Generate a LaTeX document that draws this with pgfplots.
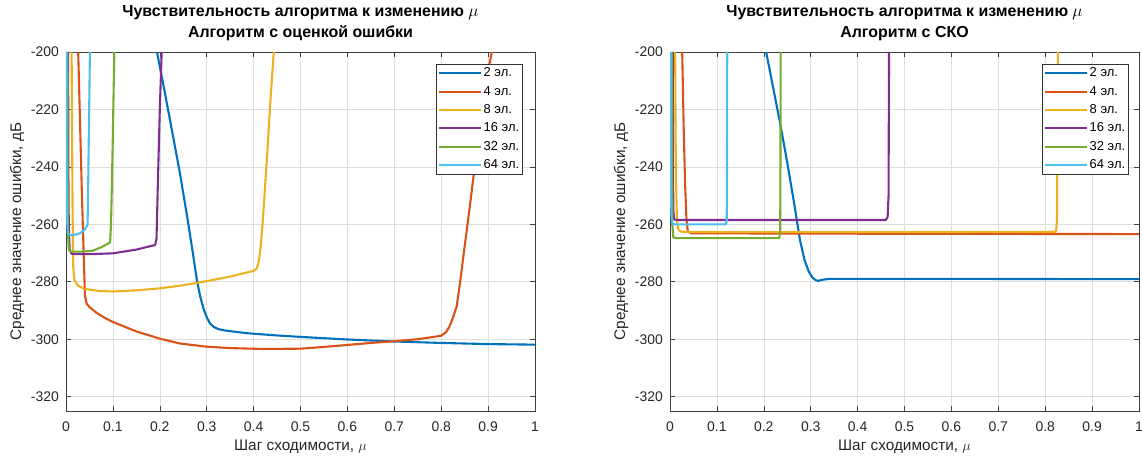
\documentclass[border=0pt]{standalone}
\usepackage{fontspec}
\setmainfont{Liberation Sans}
\usepackage{pgfplots}
\pgfplotsset{compat=1.18}
\definecolor{c1}{rgb}{0,0.447,0.741}
\definecolor{c2}{rgb}{0.850,0.325,0.098}
\definecolor{c3}{rgb}{0.929,0.694,0.125}
\definecolor{c4}{rgb}{0.494,0.184,0.556}
\definecolor{c5}{rgb}{0.466,0.674,0.188}
\definecolor{c6}{rgb}{0.301,0.745,0.933}
\tikzset{ml/.style={line width=2.1bp, line join=round}}
\pgfplotsset{
  mstyle/.style={
    width=469bp, height=359bp, scale only axis,
    xmin=0, xmax=1, ymin=-325, ymax=-200,
    xtick={0,0.1,...,1.01}, ytick={-320,-300,-280,-260,-240,-220,-200},
    /pgf/number format/assume math mode=true,
    /pgf/number format/fixed,
    /pgf/number format/precision=1,
    grid=major, major grid style={black!13, line width=0.6bp},
    axis line style={black!75, line width=0.6bp},
    tick style={black!75, line width=0.6bp},
    major tick length=5bp, tick align=inside,
    ticklabel style={font=\fontsize{14}{16}\selectfont, text=black!85},
    xticklabel style={inner sep=0pt, anchor=north, text height=10bp, text depth=0bp, yshift=-10.5bp},
    yticklabel style={inner sep=0pt, anchor=east, xshift=-7bp},
    xlabel style={font=\fontsize{15.4}{18}\selectfont, at={(axis description cs:0.5,-0.1003)}, anchor=center, text=black!85},
    ylabel style={font=\fontsize{15.4}{18}\selectfont, at={(axis description cs:-0.1045,0.5)}, anchor=center, rotate=0, text=black!85},
    title style={font=\fontsize{16}{21}\selectfont\bfseries, at={(axis description cs:0.5,1)}, anchor=south, inner sep=0pt, yshift=5.5bp, align=center},
    xlabel={Шаг сходимости, $\mu$},
    ylabel={Среднее значение ошибки, дБ},
    legend cell align=left,
    legend style={at={(axis description cs:0.9744,0.9666)}, anchor=north east,
      draw=black!80, line width=0.6bp, fill=white, inner xsep=2bp, inner ysep=0bp,
      font=\fontsize{13}{15}\selectfont, row sep=0pt,
      nodes={inner ysep=2.65bp, inner xsep=1.5bp, text height=10bp, text depth=3bp}},
    legend image code/.code={\draw[##1, line width=2.1bp] (0bp,0bp) -- (42bp,0bp);},
  }
}
\begin{document}
\begin{tikzpicture}
\useasboundingbox (-66bp,-46bp) rectangle (1076bp,411bp);
\begin{axis}[mstyle, at={(0bp,0bp)}, anchor=south west,
  title={Чувствительность алгоритма к изменению $\mu$\\Алгоритм с оценкой ошибки}]
\addplot[c1, ml] coordinates {(0.194,-200) (0.21,-213.5) (0.225,-226.5) (0.243,-242.3) (0.26,-259) (0.27,-269.5) (0.279,-279.3) (0.286,-285) (0.293,-289.3) (0.30,-292.3) (0.307,-294.5) (0.315,-295.7) (0.325,-296.5) (0.34,-297) (0.385,-297.9) (0.45,-298.7) (0.5,-299.2) (0.6,-300.1) (0.7,-300.8) (0.8,-301.3) (0.9,-301.7) (1.0,-301.9)};
\addlegendentry{2 эл.}
\addplot[c2, ml] coordinates {(0.026,-200) (0.030,-225) (0.034,-250) (0.038,-272) (0.0405,-285) (0.044,-287.6) (0.05,-288.8) (0.065,-290.8) (0.083,-292.6) (0.1,-294) (0.15,-297.3) (0.2,-299.8) (0.243,-301.5) (0.3,-302.6) (0.35,-303.1) (0.42,-303.4) (0.5,-303.3) (0.55,-302.7) (0.6,-302) (0.65,-301.3) (0.7,-300.7) (0.75,-300) (0.80,-298.8) (0.81,-297.6) (0.818,-295.5) (0.825,-292.5) (0.833,-288.6) (0.84,-280.5) (0.847,-271.5) (0.854,-262.7) (0.861,-253.8) (0.868,-244.5) (0.875,-235.3) (0.883,-224.8) (0.89,-216.5) (0.9,-206.5) (0.908,-200)};
\addlegendentry{4 эл.}
\addplot[c3, ml] coordinates {(0.012,-200) (0.013,-230) (0.014,-255) (0.0155,-275) (0.018,-279.5) (0.025,-281.3) (0.04,-282.5) (0.07,-283.2) (0.1,-283.4) (0.15,-283) (0.2,-282.3) (0.25,-281.2) (0.3,-279.8) (0.35,-278.2) (0.4,-276.2) (0.407,-275.3) (0.411,-273) (0.415,-268) (0.42,-258) (0.424,-248) (0.43,-233) (0.435,-219) (0.443,-200)};
\addlegendentry{8 эл.}
\addplot[c4, ml] coordinates {(0.0045,-200) (0.005,-240) (0.006,-262) (0.008,-269) (0.012,-270.3) (0.05,-270.4) (0.1,-270.1) (0.15,-268.8) (0.19,-267.2) (0.193,-265) (0.196,-245) (0.2,-220) (0.204,-200)};
\addlegendentry{16 эл.}
\addplot[c5, ml] coordinates {(0.003,-200) (0.0035,-240) (0.004,-262) (0.006,-268.8) (0.01,-269.5) (0.03,-269.5) (0.055,-269.3) (0.075,-268) (0.094,-266.3) (0.096,-260) (0.098,-245) (0.1,-228) (0.103,-200)};
\addlegendentry{32 эл.}
\addplot[c6, ml] coordinates {(0.0012,-200) (0.0015,-240) (0.002,-258) (0.004,-263.3) (0.01,-263.8) (0.02,-263.6) (0.03,-263.1) (0.04,-261.8) (0.046,-260.2) (0.047,-250) (0.049,-225) (0.051,-200)};
\addlegendentry{64 эл.}
\end{axis}
\begin{axis}[mstyle, at={(604bp,0bp)}, anchor=south west,
  legend style={at={(axis description cs:0.9787,0.9666)}},
  title={Чувствительность алгоритма к изменению $\mu$\\Алгоритм с СКО}]
\addplot[c1, ml] coordinates {(0.205,-200) (0.22,-212.5) (0.235,-225) (0.25,-238.5) (0.265,-253) (0.277,-265.4) (0.287,-272.5) (0.296,-276.5) (0.304,-278.6) (0.31,-279.4) (0.316,-279.7) (0.325,-279.3) (0.34,-279) (0.4,-279) (0.6,-279) (1.0,-279.1)};
\addlegendentry{2 эл.}
\addplot[c2, ml] coordinates {(0.026,-200) (0.029,-225) (0.032,-245) (0.035,-258) (0.038,-262.5) (0.045,-263.1) (0.2,-263.2) (0.5,-263.3) (1.0,-263.4)};
\addlegendentry{4 эл.}
\addplot[c3, ml] coordinates {(0.011,-200) (0.012,-230) (0.0135,-250) (0.015,-259) (0.018,-262) (0.025,-262.6) (0.1,-262.7) (0.5,-262.7) (0.823,-262.6) (0.825,-259) (0.826,-230) (0.827,-200)};
\addlegendentry{8 эл.}
\addplot[c4, ml] coordinates {(0.006,-200) (0.0065,-240) (0.007,-255) (0.009,-258.3) (0.015,-258.5) (0.46,-258.5) (0.464,-257.5) (0.466,-250) (0.467,-200)};
\addlegendentry{16 эл.}
\addplot[c5, ml] coordinates {(0.004,-200) (0.0045,-245) (0.005,-260) (0.007,-264.5) (0.012,-264.8) (0.233,-264.8) (0.235,-262) (0.2355,-240) (0.236,-200)};
\addlegendentry{32 эл.}
\addplot[c6, ml] coordinates {(0.0015,-200) (0.002,-245) (0.003,-257) (0.005,-259.9) (0.01,-260) (0.119,-260) (0.121,-258.5) (0.1215,-240) (0.122,-200)};
\addlegendentry{64 эл.}
\end{axis}
\end{tikzpicture}
\end{document}
